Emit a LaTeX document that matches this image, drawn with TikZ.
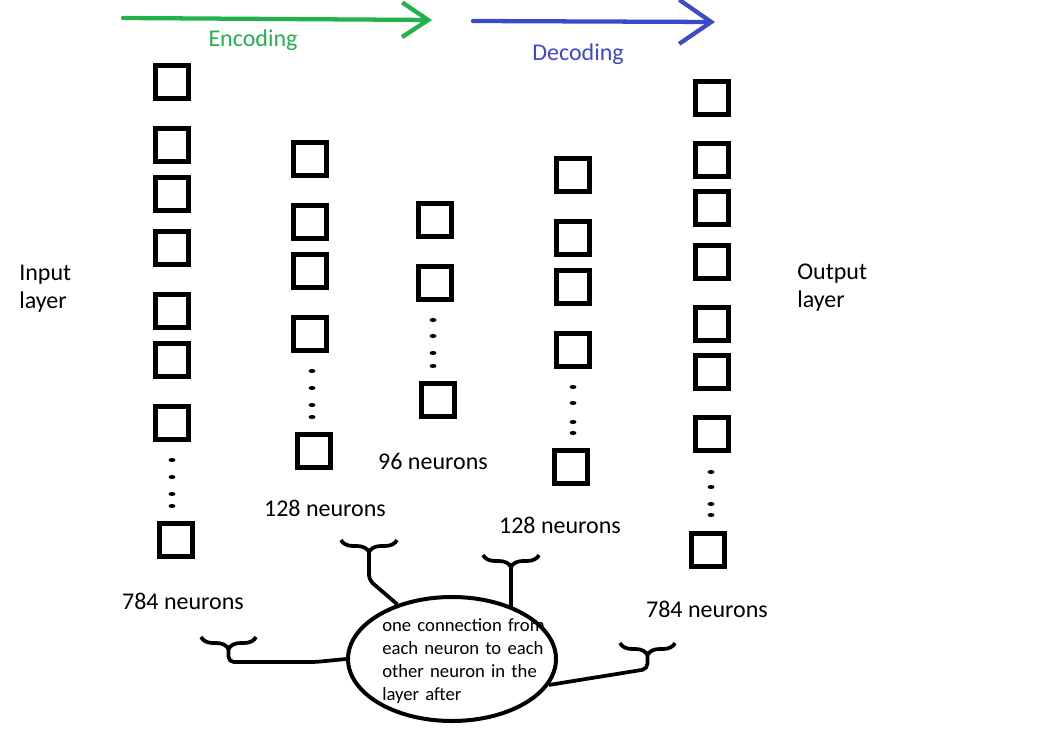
\documentclass[tikz,border=0pt]{standalone}
\usepackage{fontspec}
\setmainfont{Carlito}
\usetikzlibrary{arrows.meta,shapes.geometric,decorations.pathreplacing}
\definecolor{encgreen}{HTML}{22B14C}
\definecolor{decblue}{HTML}{3F48CC}

\begin{document}
\begin{tikzpicture}[x=0.75pt,y=-0.75pt,
  neuron/.style={draw,line width=3.75pt,minimum size=24.75pt,inner sep=0pt},
  lbl/.style={font=\fontsize{18}{21}\selectfont,inner sep=0pt},
  notetext/.style={font=\fontsize{14}{17.25}\selectfont,text width=125pt,align=left,inner sep=0pt},
  flow/.style={line width=3.2pt,line cap=round},
  curly/.style={decorate,decoration={brace,mirror,amplitude=9pt},line width=2.8pt},
  link/.style={line width=2.8pt,line join=round,rounded corners=4pt}
]
\useasboundingbox (0,0) rectangle (1041,738);

% direction arrows
\coordinate (encS) at (123,18);
\coordinate (encE) at (432,20);
\coordinate (decS) at (473,21);
\coordinate (decE) at (715,22);
\draw[flow,encgreen,-{Straight Barb[length=19.5pt,width=26pt]}] (encS) -- (encE);
\draw[flow,decblue,-{Straight Barb[length=24pt,width=33pt]}] (decS) -- (decE);
\node[lbl,text=encgreen] (enclab) at (253,40) {Encoding};
\node[lbl,text=decblue] (declab) at (578,54) {Decoding};

% input layer
\foreach \y [count=\i] in {82,145,194,248,311,360,423}
  \node[neuron] (in\i) at (172,\y) {};
\node[neuron] (in8) at (176,540) {};
\foreach \y in {460,477,494,506}
  \fill (172,\y) ellipse[x radius=2.6pt,y radius=1.5pt];

% first hidden layer
\foreach \y [count=\i] in {159,222,271,334}
  \node[neuron] (hA\i) at (310,\y) {};
\node[neuron] (hA5) at (314,451) {};
\foreach \y in {371,388,405,417}
  \fill (312,\y) ellipse[x radius=2.6pt,y radius=1.5pt];

% code layer
\foreach \y [count=\i] in {220,283}
  \node[neuron] (code\i) at (435,\y) {};
\node[neuron] (code3) at (438,400) {};
\foreach \y in {320,336,353,366}
  \fill (433,\y) ellipse[x radius=2.6pt,y radius=1.5pt];

% second hidden layer
\foreach \y [count=\i] in {175,238,287,350}
  \node[neuron] (hB\i) at (573,\y) {};
\node[neuron] (hB5) at (571,467) {};
\foreach \y in {387,403,422,433}
  \fill (573,\y) ellipse[x radius=2.6pt,y radius=1.5pt];

% output layer
\foreach \y [count=\i] in {98,160,208,262,324,372,434}
  \node[neuron] (out\i) at (712,\y) {};
\node[neuron] (out8) at (708,550) {};
\foreach \y in {472,487,504,515}
  \fill (711,\y) ellipse[x radius=2.6pt,y radius=1.5pt];

% labels
\node[lbl,align=left,anchor=west] (inlab) at (19,289) {Input\\layer};
\node[lbl,align=left,anchor=west] (outlab) at (797,288) {Output\\layer};
\node[lbl] (nin) at (183,601) {784 neurons};
\node[lbl] (nhA) at (325,508) {128 neurons};
\node[lbl] (ncode) at (433,461) {96 neurons};
\node[lbl] (nhB) at (560,525) {128 neurons};
\node[lbl] (nout) at (707,609) {784 neurons};

% note
\node[draw,ellipse,line width=3pt,minimum width=156pt,minimum height=93pt] (note) at (452,659) {};
\node[notetext,anchor=west] (notetxt) at (382,661)
  {one connection from each neuron to each other neuron in the layer after};

% braces
\draw[curly] (201,637) -- (256,637);
\draw[curly] (341,540) -- (397,540);
\draw[curly] (483,555) -- (539,555);
\draw[curly] (620,643) -- (675,643);
\coordinate (tipA) at (228.5,649);
\coordinate (tipB) at (369,552);
\coordinate (tipC) at (511,567);
\coordinate (tipD) at (647.5,655);
\draw[link] (tipA) -- ++(0,13) -- ++(87,0) -- (note.west);
\draw[link] (tipB) -- ++(0,28) -- (note.135);
\draw[link] (tipC) -- ++(0,40);
\draw[link] (tipD) -- ++(0,14) -- (note.-15);
\end{tikzpicture}
\end{document}
